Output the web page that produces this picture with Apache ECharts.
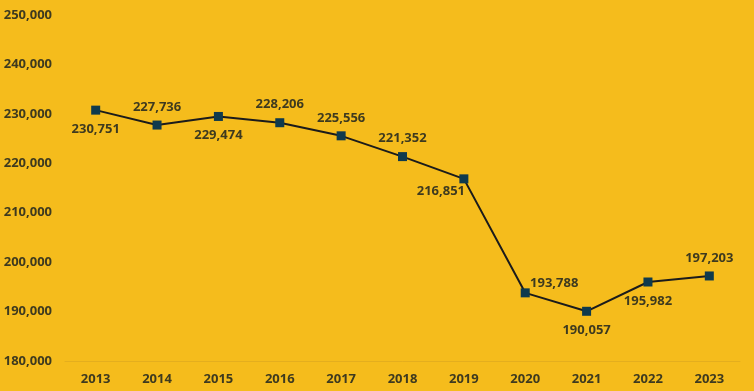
<!DOCTYPE html>
<html>
<head>
<meta charset="utf-8">
<style>
html,body{margin:0;padding:0;background:#F5BC1C;}
#chart{width:754px;height:391px;}
</style>
<script src="https://cdn.jsdelivr.net/npm/echarts@6/dist/echarts.min.js"></script>
</head>
<body>
<div id="chart"></div>
<script>
const years = ['2013','2014','2015','2016','2017','2018','2019','2020','2021','2022','2023'];
const values = [230751, 227736, 229474, 228206, 225556, 221352, 216851, 193788, 190057, 195982, 197203];
// label placement per point: [dx, dy] offsets relative to point
const labelOffsets = [[0,19],[0,-18],[0,19],[0,-18],[0,-18],[0,-18],[-23,12],[29,-10],[0,19],[0,19],[0,-18]];

const textColor = '#3E3A1F';
const fontFamily = '"Open Sans", "Liberation Sans", sans-serif';

const chart = echarts.init(document.getElementById('chart'), null, {renderer:'canvas'});
chart.setOption({
  backgroundColor: '#F5BC1C',
  animation: false,
  grid: {left: 65, right: 14, top: 15, bottom: 30},
  xAxis: {
    type: 'category',
    data: years,
    boundaryGap: true,
    axisLine: {show: true, lineStyle: {color: '#E4AE1E', width: 1}},
    axisTick: {show: false},
    axisLabel: {color: textColor, fontSize: 13, fontWeight: 'bold', fontFamily: fontFamily, margin: 12}
  },
  yAxis: {
    type: 'value',
    min: 180000,
    max: 250000,
    interval: 10000,
    splitLine: {show: false},
    axisLine: {show: false},
    axisTick: {show: false},
    axisLabel: {
      color: textColor, fontSize: 13, fontWeight: 'bold', fontFamily: fontFamily, margin: 13,
      formatter: v => v.toLocaleString('en-US')
    }
  },
  series: [{
    type: 'line',
    data: values.map((v, i) => ({
      value: v,
      label: {offset: labelOffsets[i]}
    })),
    symbol: 'rect',
    symbolSize: 9,
    itemStyle: {color: '#0F3A4D'},
    lineStyle: {color: '#1B1B1B', width: 2},
    label: {
      show: true,
      position: 'inside',
      color: textColor,
      fontSize: 13,
      fontWeight: 'bold',
      fontFamily: fontFamily,
      formatter: p => p.value.toLocaleString('en-US')
    }
  }]
});
</script>
</body>
</html>
